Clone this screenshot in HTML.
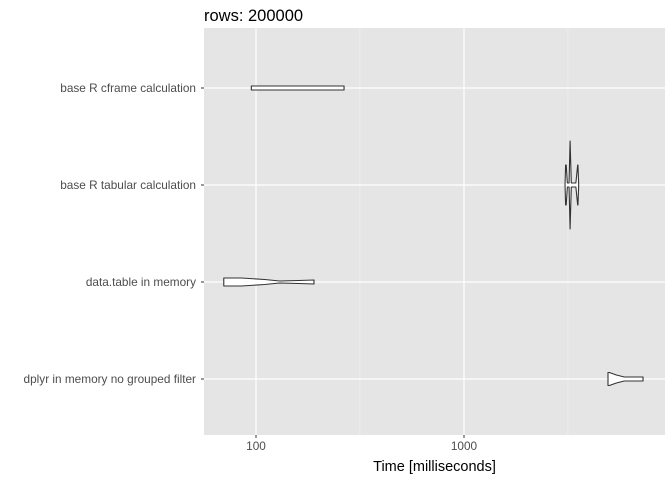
<!DOCTYPE html>
<html><head><meta charset="utf-8"><style>
body{margin:0;background:#fff;font-family:"Liberation Sans",Arial,sans-serif}
</style></head><body>
<svg id="chart" width="672" height="480" xmlns="http://www.w3.org/2000/svg"></svg>
<script>
const categories=["base R cframe calculation","base R tabular calculation","data.table in memory","dplyr in memory no grouped filter"];
const xTicks=[100,1000];
const xTickLabels=["100","1000"];
const minorTicks=[31.6,316,3162];
// violin profiles: times (ms) and half-widths (relative density, px scale)
const cframeT=[95,120,180,265];
const cframeW=[2,2,2,2];
const dtT=[70,85,110,130,160,190];
const dtW=[4,4,2.5,1,1.5,2];
const tabT=[3060,3080,3100,3140,3200,3236,3280,3350,3450,3520,3530,3560];
const tabW=[0,20,20,2,2,44,2,2,2,20,20,0];
const dplyrT=[4924,5000,5400,5900,6500,7256];
const dplyrW=[6.5,6.5,4,2,2,2];
const series=[[cframeT,cframeW],[tabT,tabW],[dtT,dtW],[dplyrT,dplyrW]];

const svg=document.getElementById('chart');
const NS='http://www.w3.org/2000/svg';
const L=204,R=665,T=28,B=435;
const xs=t=>256+208*Math.log10(t/100);
const ys=i=>88+97*i;
function mk(tag,attrs,parent){const e=document.createElementNS(NS,tag);for(const k in attrs)e.setAttribute(k,attrs[k]);(parent||svg).appendChild(e);return e;}

const panel=mk('rect',{x:L,y:T,width:R-L,height:B-T,fill:'#e5e5e5'});


minorTicks.forEach(t=>{const x=xs(t);if(x>L&&x<R){const g=mk('line',{x1:x,x2:x,y1:T,y2:B,stroke:'#f2f2f2','stroke-width':0.6});

}});
xTicks.forEach((t,i)=>{const x=xs(t);const g=mk('line',{x1:x,x2:x,y1:T,y2:B,stroke:'#fff','stroke-width':1.2});


const tk=mk('line',{x1:x,x2:x,y1:B,y2:B+3,stroke:'#333','stroke-width':1});


const tx=mk('text',{x:x,y:B+15,'text-anchor':'middle','font-size':11.8,fill:'#4d4d4d'});tx.textContent=xTickLabels[i];

});
categories.forEach((c,i)=>{const y=ys(i);const g=mk('line',{x1:L,x2:R,y1:y,y2:y,stroke:'#fff','stroke-width':1.2});


const tk=mk('line',{x1:L-3,x2:L,y1:y,y2:y,stroke:'#333','stroke-width':1});


const tx=mk('text',{x:L-8,y:y+4,'text-anchor':'end','font-size':11.8,fill:'#4d4d4d'});tx.textContent=c;

});
series.forEach(([ts,ws],i)=>{const y=ys(i);let d='';
ts.forEach((t,j)=>{d+=(j?'L':'M')+xs(t).toFixed(2)+','+(y-ws[j]).toFixed(2);});
for(let j=ts.length-1;j>=0;j--)d+='L'+xs(ts[j]).toFixed(2)+','+(y+ws[j]).toFixed(2);
d+='Z';
const p=mk('path',{d:d,fill:'#fff',stroke:'#333','stroke-width':1.1,'stroke-linejoin':'round'});

});
const title=mk('text',{x:L,y:21,'font-size':16.5,fill:'#000'});title.textContent='rows: 200000';


const xt=mk('text',{x:(L+R)/2,y:471,'text-anchor':'middle','font-size':14.5,fill:'#000'});xt.textContent='Time [milliseconds]';


</script>
</body></html>
